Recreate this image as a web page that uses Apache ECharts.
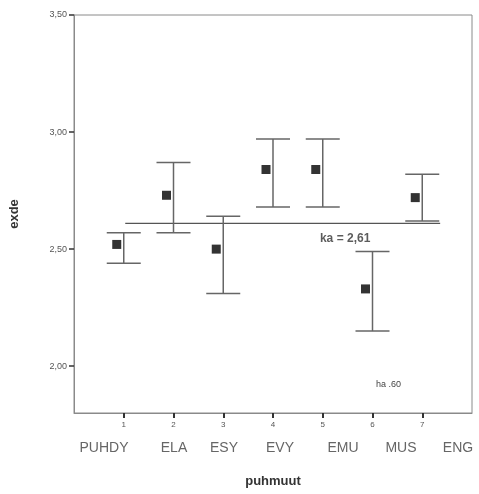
<!DOCTYPE html>
<html>
<head>
<meta charset="utf-8">
<script src="https://cdn.jsdelivr.net/npm/echarts@6/dist/echarts.min.js"></script>
<style>
  html, body { margin: 0; padding: 0; background: #fff; }
  #chart { width: 479px; height: 494px; }
</style>
</head>
<body>
<div id="chart"></div>
<script>
// Group codes on the x axis and their names
const groupCodes = [1, 2, 3, 4, 5, 6, 7];
const groupNames = ['PUHDY', 'ELA', 'ESY', 'EVY', 'EMU', 'MUS', 'ENG'];
// Group means of exde and the ends of their error bars
const means = [2.52, 2.73, 2.50, 2.84, 2.84, 2.33, 2.72];
const upper = [2.57, 2.87, 2.64, 2.97, 2.97, 2.49, 2.82];
const lower = [2.44, 2.57, 2.31, 2.68, 2.68, 2.15, 2.62];
// Overall mean
const grandMean = 2.61;
const yTicks = [2.0, 2.5, 3.0, 3.5];
const noteText = 'ha .60';

// x centres of the group-name row (pixels)
const nameX = [104, 174, 224, 280, 343, 401, 458];

const chart = echarts.init(document.getElementById('chart'), null, { renderer: 'canvas' });
const font = 'Liberation Sans, Arial, sans-serif';

const errData = groupCodes.map((c, i) => [c, lower[i], upper[i]]);
const meanData = groupCodes.map((c, i) => [c, means[i]]);

chart.setOption({
  animation: false,
  backgroundColor: '#fff',
  grid: {
    left: 73, right: 7, top: 15, bottom: 81,
    show: true, borderColor: '#8a8a8a', borderWidth: 1
  },
  xAxis: {
    type: 'value', min: 0, max: 8,
    name: 'puhmuut', nameLocation: 'middle', nameGap: 62,
    nameTextStyle: { fontFamily: font, fontSize: 13, fontWeight: 'bold', color: '#333' },
    axisLine: { show: true, lineStyle: { color: '#8a8a8a' } },
    splitLine: { show: false },
    axisTick: { show: true, length: 5, customValues: groupCodes, lineStyle: { color: '#333', width: 2 } },
    axisLabel: { customValues: groupCodes, fontFamily: font, fontSize: 8, color: '#555', margin: 8 }
  },
  yAxis: {
    type: 'value', min: 1.8, max: 3.5,
    name: 'exde', nameLocation: 'middle', nameGap: 53, nameRotate: 90,
    nameTextStyle: { fontFamily: font, fontSize: 13, fontWeight: 'bold', color: '#333' },
    axisLine: { show: true, lineStyle: { color: '#8a8a8a' } },
    splitLine: { show: false },
    axisTick: { show: true, length: 5, customValues: yTicks, lineStyle: { color: '#333', width: 1.5 } },
    axisLabel: {
      customValues: yTicks, fontFamily: font, fontSize: 9, color: '#555', margin: 7,
      formatter: v => v.toFixed(2).replace('.', ',')
    }
  },
  series: [
    {
      // overall mean reference line
      type: 'line',
      data: [[1.03, grandMean], [7.36, grandMean]],
      symbol: 'none',
      lineStyle: { color: '#555', width: 1.3 },
      z: 1
    },
    {
      type: 'custom',
      data: errData,
      renderItem: (params, api) => {
        const lo = api.coord([api.value(0), api.value(1)]);
        const hi = api.coord([api.value(0), api.value(2)]);
        const hw = 17;
        const style = { stroke: '#666', lineWidth: 1.5 };
        return {
          type: 'group',
          children: [
            { type: 'line', shape: { x1: hi[0], y1: hi[1], x2: lo[0], y2: lo[1] }, style },
            { type: 'line', shape: { x1: hi[0] - hw, y1: hi[1], x2: hi[0] + hw, y2: hi[1] }, style },
            { type: 'line', shape: { x1: lo[0] - hw, y1: lo[1], x2: lo[0] + hw, y2: lo[1] }, style }
          ]
        };
      },
      z: 2
    },
    {
      type: 'scatter',
      data: meanData,
      symbol: 'rect',
      symbolSize: 9,
      symbolOffset: [-7, 0],
      itemStyle: { color: '#000' },
      z: 3
    },
    {
      // label of the overall mean
      type: 'scatter',
      data: [[5.45, grandMean]],
      symbolSize: 0,
      label: {
        show: true, position: 'bottom', distance: 9,
        formatter: 'ka = ' + grandMean.toFixed(2).replace('.', ','),
        fontFamily: font, fontSize: 12, fontWeight: 'bold', color: '#333'
      },
      z: 4
    }
  ],
  graphic: [
    ...groupNames.map((n, i) => ({
      type: 'text', x: nameX[i], y: 441,
      style: {
        text: n, fontFamily: font, fontSize: 14, fill: '#666',
        textAlign: 'center', textVerticalAlign: 'top'
      }
    })),
    {
      type: 'text', x: 376, y: 380,
      style: { text: noteText, fontFamily: font, fontSize: 9, fill: '#444' }
    }
  ]
});
</script>
</body>
</html>
